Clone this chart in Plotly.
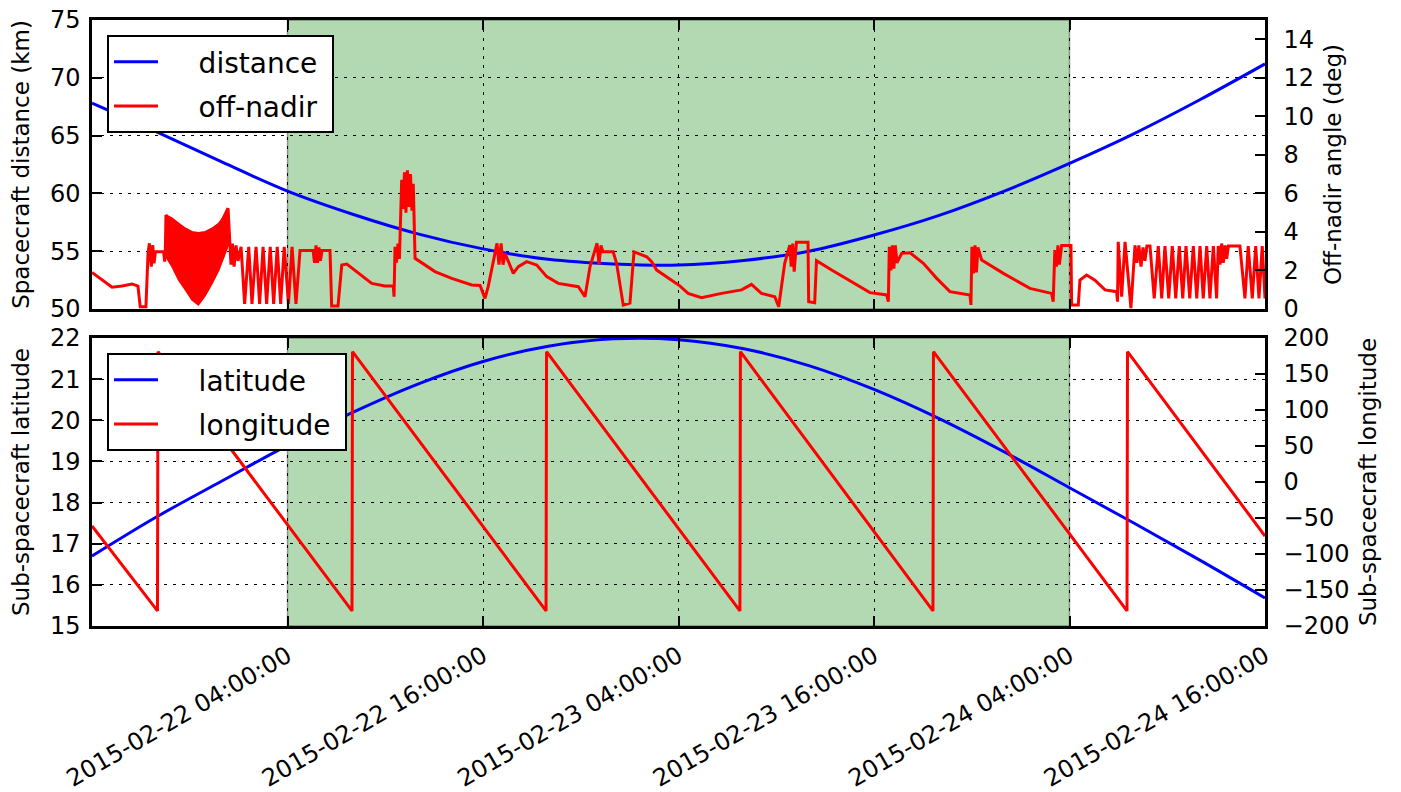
import pandas as pd
import plotly.graph_objects as go
from plotly.subplots import make_subplots

T0 = pd.Timestamp("2015-02-21 16:00:00")
T1 = pd.Timestamp("2015-02-24 16:00:00")

# ---- top panel: spacecraft distance (km), hours since T0
dist_hours = [0, 4, 8, 12, 16, 20, 24, 28, 32, 36, 40, 44, 48, 52, 56, 60, 64, 68, 72]
dist_km = [67.8, 65.3, 62.7, 60.2, 58.2, 56.5, 55.2, 54.3, 53.9, 53.8, 54.2, 55.0,
           56.4, 58.1, 60.2, 62.6, 65.2, 68.1, 71.2]

# ---- top panel: off-nadir angle (deg)
nadir_hours = [
    0.00, 0.61, 1.23, 1.84, 2.46, 2.82, 2.96, 3.31, 3.44, 3.52, 3.64, 3.73, 3.81, 3.89,
    4.40, 4.46, 4.50, 4.54, 6.51, 8.35, 8.43, 8.53, 8.62, 8.72, 8.84, 8.96,
    9.15, 9.37, 9.62, 9.82, 10.07, 10.29, 10.50, 10.72, 10.94, 11.15, 11.37, 11.58,
    11.80, 12.06, 12.28, 12.52, 12.77, 13.57, 13.66, 13.75, 13.84, 13.93, 14.02, 14.12,
    14.61, 14.71, 15.10, 15.33, 15.64, 16.35, 17.17, 17.98, 18.49, 18.54, 18.60, 18.69,
    18.78, 18.87, 19.01, 19.09, 19.18, 19.27, 19.36, 19.46, 19.55, 19.64, 19.72, 19.83,
    21.05, 22.08, 23.31, 23.82, 24.12, 24.32, 24.74, 24.86, 24.98, 25.11, 25.23, 25.35,
    25.86, 26.17, 26.68, 27.30, 27.91, 28.62, 29.85, 30.26, 30.57, 30.88, 31.00, 31.12,
    31.24, 31.36, 31.99, 32.20, 32.61, 33.02, 33.27, 34.05, 34.35, 34.66, 36.08, 36.59,
    37.41, 38.64, 39.87, 40.48, 41.09, 41.91, 42.15, 42.52, 42.83, 42.92, 43.01, 43.10,
    43.19, 43.24, 43.95, 43.99, 44.36, 44.47, 45.40, 46.63, 47.75, 48.78, 48.88, 48.94,
    49.04, 49.13, 49.22, 49.31, 49.41, 49.70, 50.21, 51.03, 51.85, 52.66, 53.89, 53.95,
    54.01, 54.11, 54.20, 54.29, 54.38, 54.61, 55.94, 57.57, 58.90, 59.00, 59.10, 59.20,
    59.29, 59.38, 59.52, 60.09, 60.13, 60.54, 60.64, 61.05, 61.56, 62.18, 62.89, 62.95,
    62.99, 63.20, 63.41, 63.77, 64.02, 64.14, 64.26, 64.39, 64.51, 64.63, 64.75, 64.94,
    65.20, 65.45, 65.66, 65.86, 66.09, 66.31, 66.52, 66.74, 66.95, 67.15, 67.38, 67.60,
    67.81, 68.01, 68.21, 68.42, 68.62, 68.83, 69.03, 69.13, 69.24, 69.34, 69.44, 69.55,
    69.65, 69.75, 70.46, 70.77, 70.97, 71.22, 71.43, 71.63, 71.83, 72.00,
]
nadir_deg = [
    1.90, 1.50, 1.13, 1.19, 1.30, 1.19, 0.12, 0.12, 2.89, 3.41, 2.20, 3.32, 2.37, 2.97,
    2.97, 2.46, 2.97, 4.88, 2.00, 5.23, 3.50, 2.30, 3.40, 2.20, 3.30, 2.50,
    3.23, 0.26, 3.23, 0.26, 3.23, 0.26, 3.23, 0.26, 3.23, 0.26, 3.23, 0.26,
    3.23, 0.26, 3.23, 0.26, 3.03, 3.03, 2.40, 3.30, 2.40, 3.20, 2.50, 3.03,
    3.03, 0.15, 0.15, 2.28, 2.33, 1.85, 1.33, 1.19, 1.19, 0.64, 3.23, 2.40,
    3.40, 2.60, 6.70, 5.20, 7.10, 5.00, 7.20, 5.30, 7.00, 5.10, 6.50, 2.63,
    1.94, 1.59, 1.25, 1.22, 0.55, 1.16, 2.89, 3.41, 2.30, 3.40, 2.30, 2.89,
    1.85, 2.20, 2.46, 2.28, 1.68, 1.33, 1.16, 0.64, 2.20, 3.06, 3.41, 2.30,
    3.30, 2.97, 2.97, 2.37, 0.20, 0.30, 2.97, 2.71, 2.46, 2.02, 1.20, 0.81,
    0.59, 0.81, 0.99, 1.28, 0.81, 0.64, 0.12, 2.37, 3.32, 2.20, 3.40, 1.94,
    3.30, 3.46, 3.46, 0.38, 0.33, 2.51, 2.02, 1.42, 0.85, 0.73, 0.38, 3.23,
    2.00, 3.30, 2.10, 3.30, 2.40, 2.89, 2.92, 2.37, 1.59, 0.90, 0.73, 0.21,
    3.23, 1.85, 3.30, 1.90, 3.20, 2.54, 1.85, 1.07, 0.81, 0.38, 3.06, 2.20,
    3.30, 2.30, 3.30, 3.30, 0.21, 0.21, 1.50, 1.76, 1.50, 0.99, 0.90, 0.38,
    3.49, 0.64, 3.49, 0.05, 3.30, 2.40, 3.30, 2.20, 3.20, 2.50, 3.27, 3.27,
    0.55, 3.27, 0.55, 3.27, 0.55, 3.27, 0.55, 3.27, 0.55, 3.27, 0.55, 3.27,
    0.55, 3.27, 0.55, 3.27, 0.55, 3.27, 0.55, 3.27, 2.30, 3.40, 2.40, 3.30,
    2.60, 3.27, 3.27, 0.55, 3.27, 0.55, 3.27, 0.55, 3.27, 0.55,
]

# ---- dense fast-wobble band of the off-nadir angle (upper / lower envelope)
env_hours = [4.54, 4.91, 5.32, 5.73, 6.14, 6.53, 6.95, 7.37, 7.78, 8.18, 8.37]
env_upper_deg = [4.88, 4.71, 4.45, 4.19, 4.01, 3.96, 4.01, 4.19, 4.45, 4.88, 5.23]
env_lower_deg = [2.71, 2.20, 1.50, 0.99, 0.47, 0.21, 0.70, 1.33, 2.02, 2.89, 3.32]

# ---- bottom panel: sub-spacecraft latitude
lat_hours = [0, 4, 8, 12, 16, 20, 24, 28, 32, 36, 40, 44, 48, 52, 56, 60, 64, 68, 72]
lat_deg = [16.70, 17.66, 18.53, 19.39, 20.19, 20.88, 21.43, 21.80, 21.98, 21.96, 21.74,
           21.33, 20.75, 20.04, 19.23, 18.36, 17.49, 16.60, 15.68]

# ---- bottom panel: sub-spacecraft longitude
lon_hours = [0, 4.02, 4.05, 15.96, 15.99, 27.87, 27.90, 39.77, 39.80, 51.62, 51.65,
             63.53, 63.56, 72]
lon_deg = [-61, -179, 181, -179, 181, -179, 181, -179, 181, -179, 181, -179, 181, -75]

tick_times = ["2015-02-22 04:00:00", "2015-02-22 16:00:00", "2015-02-23 04:00:00",
              "2015-02-23 16:00:00", "2015-02-24 04:00:00", "2015-02-24 16:00:00"]
band_start = "2015-02-22 04:00:00"
band_end = "2015-02-24 04:00:00"
series_names = ["distance", "off-nadir", "latitude", "longitude"]


def to_time(hours):
    return [T0 + pd.Timedelta(hours=h) for h in hours]


def leg_name(s):
    # non-breaking spaces reproduce the wide gap between sample line and label
    return "\u00a0\u00a0\u00a0\u00a0" + s + "\u00a0"


BLUE = "#0000ff"
RED = "#ff0000"
LW = 3

fig = make_subplots(rows=2, cols=1, shared_xaxes=True,
                    specs=[[{"secondary_y": True}], [{"secondary_y": True}]])

fig.add_trace(go.Scatter(x=to_time(dist_hours), y=dist_km, mode="lines",
                         name=leg_name(series_names[0]),
                         line=dict(color=BLUE, width=LW, shape="spline"),
                         legend="legend", legendgroup="a"),
              row=1, col=1, secondary_y=False)
env_x = to_time(env_hours) + to_time(env_hours[::-1])
env_y = env_upper_deg + env_lower_deg[::-1]
fig.add_trace(go.Scatter(x=env_x, y=env_y, mode="lines", fill="toself", fillcolor=RED,
                         line=dict(color=RED, width=1.5), showlegend=False, hoverinfo="skip"),
              row=1, col=1, secondary_y=True)
fig.add_trace(go.Scatter(x=to_time(nadir_hours), y=nadir_deg, mode="lines",
                         name=leg_name(series_names[1]),
                         line=dict(color=RED, width=LW), legend="legend", legendgroup="b"),
              row=1, col=1, secondary_y=True)

fig.add_trace(go.Scatter(x=to_time(lat_hours), y=lat_deg, mode="lines",
                         name=leg_name(series_names[2]),
                         line=dict(color=BLUE, width=LW, shape="spline"),
                         legend="legend2", legendgroup="c"),
              row=2, col=1, secondary_y=False)
fig.add_trace(go.Scatter(x=to_time(lon_hours), y=lon_deg, mode="lines",
                         name=leg_name(series_names[3]),
                         line=dict(color=RED, width=LW), legend="legend2", legendgroup="d"),
              row=2, col=1, secondary_y=True)

# the page's default 8px body margin is removed (post_script), so the figure fills the window
W, H = 1401, 792


def px_x(x):
    return x / W


def px_y(y):
    return (H - y) / H


XD = [px_x(92), px_x(1265)]
TOP_D = [px_y(309), px_y(20)]
BOT_D = [px_y(626), px_y(338)]

axis_common = dict(showline=True, linewidth=2.5, linecolor="black", ticks="inside",
                   ticklen=10, tickwidth=1.5, tickcolor="black", zeroline=False,
                   automargin=False, ticklabeloverflow="allow",
                   tickfont=dict(size=24, color="black"))
grid = dict(showgrid=True, gridcolor="black", gridwidth=1, griddash="3px,6px")
tfont = dict(size=23, color="black")

xcommon = dict(axis_common, **grid, range=[T0, T1], tickvals=tick_times, ticktext=tick_times,
               mirror="ticks", domain=XD, ticklabelstandoff=4)

leg = dict(xanchor="left", yanchor="top", bgcolor="white", bordercolor="black", borderwidth=2,
           font=dict(size=28, color="black"), itemwidth=44, tracegroupgap=5)

fig.update_layout(
    width=W, height=H, margin=dict(l=0, r=0, t=0, b=0, autoexpand=False),
    paper_bgcolor="white", plot_bgcolor="white",
    font=dict(family="DejaVu Sans", size=22, color="black"),
    xaxis=dict(xcommon, showticklabels=False, anchor="y"),
    xaxis2=dict(xcommon, showticklabels=True, tickangle=-30, anchor="y3"),
    yaxis=dict(axis_common, **grid, domain=TOP_D, range=[50, 75], tick0=50, dtick=5, mirror=True,
               ticklabelstandoff=4,
               title=dict(text="Spacecraft distance (km)", standoff=14, font=tfont)),
    yaxis2=dict(axis_common, showgrid=False, range=[0, 15], tick0=0, dtick=2, side="right",
                ticklabelstandoff=11,
                title=dict(text="Off-nadir angle (deg)", standoff=12, font=tfont)),
    yaxis3=dict(axis_common, **grid, domain=BOT_D, range=[15, 22], tick0=15, dtick=1, mirror=True,
                ticklabelstandoff=4,
                title=dict(text="Sub-spacecraft latitude", standoff=14, font=tfont)),
    yaxis4=dict(axis_common, showgrid=False, range=[-200, 200], tick0=-200, dtick=50,
                side="right", ticklabelstandoff=11,
                title=dict(text="Sub-spacecraft longitude", standoff=12, font=tfont)),
    legend=dict(leg, x=px_x(107), y=px_y(35)),
    legend2=dict(leg, x=px_x(107), y=px_y(353)),
    showlegend=True,
)

band = dict(type="rect", x0=band_start, x1=band_end, fillcolor="rgba(0,128,0,0.3)",
            line=dict(color="rgba(0,0,0,0.35)", width=1.5), layer="below")
fig.add_shape(band, xref="x", yref="y domain", y0=0, y1=1)
fig.add_shape(band, xref="x2", yref="y3 domain", y0=0, y1=1)

fig.write_html("out.html", config={"displayModeBar": False},
               post_script="document.body.style.margin='0';")
